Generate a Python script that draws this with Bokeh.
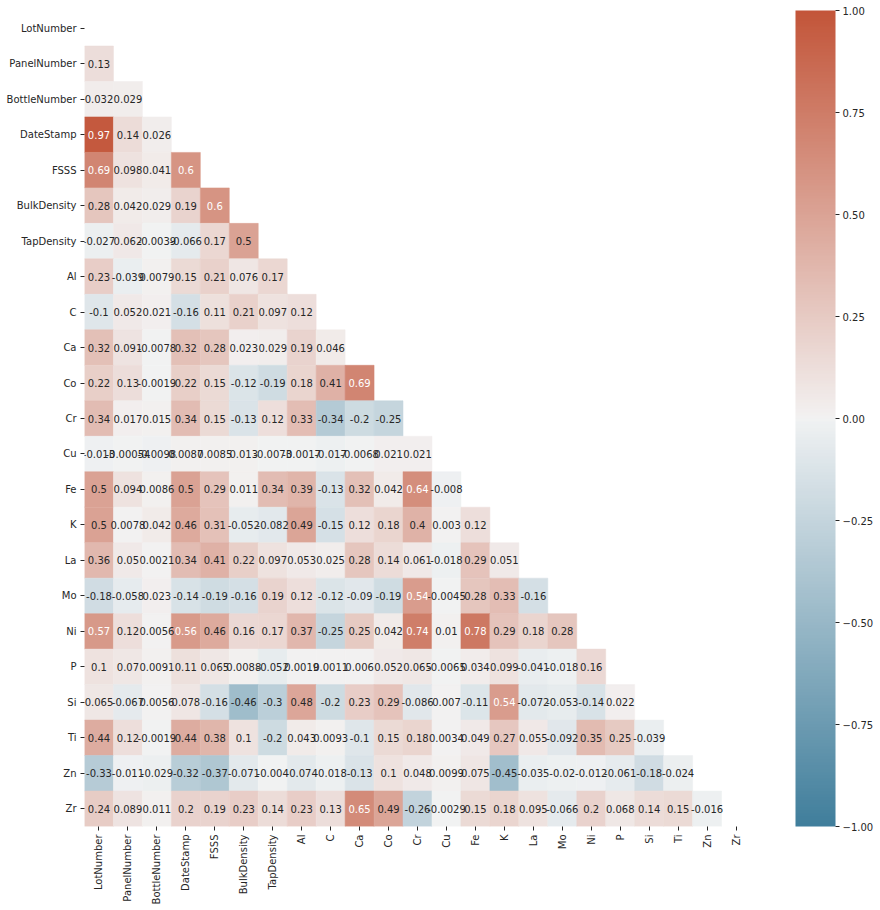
import math
from bokeh.plotting import figure
from bokeh.models import (ColumnDataSource, LinearColorMapper, ColorBar, FixedTicker,
                          CustomJSTickFormatter, FactorRange)
from bokeh.core.properties import value
from bokeh.embed import file_html
from bokeh.resources import INLINE

labels = ["LotNumber", "PanelNumber", "BottleNumber", "DateStamp", "FSSS", "BulkDensity",
          "TapDensity", "Al", "C", "Ca", "Co", "Cr", "Cu", "Fe", "K", "La", "Mo", "Ni",
          "P", "Si", "Ti", "Zn", "Zr"]

# lower-triangle correlation values, one list per row (row i holds columns 0..i-1)
r_LotNumber = []
r_PanelNumber = [0.13]
r_BottleNumber = [0.032, 0.029]
r_DateStamp = [0.97, 0.14, 0.026]
r_FSSS = [0.69, 0.098, 0.041, 0.6]
r_BulkDensity = [0.28, 0.042, 0.029, 0.19, 0.6]
r_TapDensity = [-0.027, 0.062, -0.0039, -0.066, 0.17, 0.5]
r_Al = [0.23, -0.039, 0.0079, 0.15, 0.21, 0.076, 0.17]
r_C = [-0.1, 0.052, 0.021, -0.16, 0.11, 0.21, 0.097, 0.12]
r_Ca = [0.32, 0.091, -0.0078, 0.32, 0.28, 0.023, 0.029, 0.19, 0.046]
r_Co = [0.22, 0.13, -0.0019, 0.22, 0.15, -0.12, -0.19, 0.18, 0.41, 0.69]
r_Cr = [0.34, 0.017, 0.015, 0.34, 0.15, -0.13, 0.12, 0.33, -0.34, -0.2, -0.25]
r_Cu = [-0.013, -0.00054, -0.0098, 0.0087, 0.0085, 0.013, -0.0073, -0.0017, -0.017,
        -0.0068, 0.021, 0.021]
r_Fe = [0.5, 0.094, 0.0086, 0.5, 0.29, 0.011, 0.34, 0.39, -0.13, 0.32, 0.042, 0.64, -0.008]
r_K = [0.5, 0.0078, 0.042, 0.46, 0.31, -0.052, -0.082, 0.49, -0.15, 0.12, 0.18, 0.4,
       0.003, 0.12]
r_La = [0.36, 0.05, 0.0021, 0.34, 0.41, 0.22, 0.097, 0.053, 0.025, 0.28, 0.14, 0.061,
        -0.018, 0.29, 0.051]
r_Mo = [-0.18, -0.058, 0.023, -0.14, -0.19, -0.16, 0.19, 0.12, -0.12, -0.09, -0.19, 0.54,
        -0.0045, 0.28, 0.33, -0.16]
r_Ni = [0.57, 0.12, 0.0056, 0.56, 0.46, 0.16, 0.17, 0.37, -0.25, 0.25, 0.042, 0.74, 0.01,
        0.78, 0.29, 0.18, 0.28]
r_P = [0.1, 0.07, 0.0091, 0.11, 0.065, 0.0088, -0.052, 0.0019, 0.0011, 0.006, 0.052,
       0.065, -0.0065, 0.034, 0.099, -0.041, -0.018, 0.16]
r_Si = [0.065, -0.067, 0.0056, 0.078, -0.16, -0.46, -0.3, 0.48, -0.2, 0.23, 0.29, -0.086,
        0.007, -0.11, 0.54, -0.072, -0.053, -0.14, 0.022]
r_Ti = [0.44, 0.12, -0.0019, 0.44, 0.38, 0.1, -0.2, 0.043, 0.0093, -0.1, 0.15, 0.18,
        0.0034, 0.049, 0.27, 0.055, -0.092, 0.35, 0.25, -0.039]
r_Zn = [-0.33, -0.011, -0.029, -0.32, -0.37, -0.071, -0.004, -0.074, -0.018, -0.13, 0.1,
        0.048, 0.0099, 0.075, -0.45, -0.035, -0.02, -0.012, -0.061, -0.18, -0.024]
r_Zr = [0.24, 0.089, 0.011, 0.2, 0.19, 0.23, 0.14, 0.23, 0.13, 0.65, 0.49, -0.26, -0.0029,
        0.15, 0.18, 0.095, -0.066, 0.2, 0.068, 0.14, 0.15, -0.016]

rows = [r_LotNumber, r_PanelNumber, r_BottleNumber, r_DateStamp, r_FSSS, r_BulkDensity,
        r_TapDensity, r_Al, r_C, r_Ca, r_Co, r_Cr, r_Cu, r_Fe, r_K, r_La, r_Mo, r_Ni,
        r_P, r_Si, r_Ti, r_Zn, r_Zr]

cbar_ticks = [-1.0, -0.75, -0.5, -0.25, 0.0, 0.25, 0.5, 0.75, 1.0]

# ---- seaborn diverging_palette(230, 20) reproduction (HUSL colour space) ----
M = [[3.2406, -1.5372, -0.4986], [-0.9689, 1.8758, 0.0415], [0.0557, -0.2040, 1.0570]]
REF_U, REF_V = 0.19784, 0.46834


def max_chroma(L, H):
    hrad = math.radians(H)
    sinH, cosH = math.sin(hrad), math.cos(hrad)
    sub1 = (L + 16) ** 3 / 1560896.0
    sub2 = sub1 if sub1 > 0.008856 else L / 903.3
    result = float("inf")
    for m1, m2, m3 in M:
        top = (0.99915 * m1 + 1.05122 * m2 + 1.14460 * m3) * sub2
        rbottom = 0.86330 * m3 - 0.17266 * m2
        lbottom = 0.12949 * m3 - 0.38848 * m1
        bottom = (rbottom * sinH + lbottom * cosH) * sub2
        for t in (0.0, 1.0):
            C = L * (top - 1.05122 * t) / (bottom + 0.17266 * sinH * t)
            if 0.0 < C < result:
                result = C
    return result


def husl_to_rgb(H, S, L):
    C = max_chroma(L, H) / 100.0 * S
    U = C * math.cos(math.radians(H))
    V = C * math.sin(math.radians(H))
    varY = ((L + 16) / 116.0) ** 3 if L > 8 else L / 903.3
    varU = U / (13.0 * L) + REF_U
    varV = V / (13.0 * L) + REF_V
    Y = varY
    X = -(9.0 * Y * varU) / ((varU - 4.0) * varV - varU * varV)
    Z = (9.0 * Y - 15.0 * varV * Y - varV * X) / (3.0 * varV)
    out = []
    for row in M:
        c = row[0] * X + row[1] * Y + row[2] * Z
        c = 12.92 * c if c <= 0.0031308 else 1.055 * c ** (1 / 2.4) - 0.055
        out.append(min(max(c, 0.0), 1.0))
    return out


def lerp(a, b, t):
    return [a[k] + (b[k] - a[k]) * t for k in range(3)]


neg_c, neg_g = husl_to_rgb(230, 75, 50), husl_to_rgb(230, 75 * 0.15, 95)
pos_c, pos_g = husl_to_rgb(20, 75, 50), husl_to_rgb(20, 75 * 0.15, 95)
base = ([lerp(neg_c, neg_g, i / 127.0) for i in range(128)] + [[0.95, 0.95, 0.95]] +
        [lerp(pos_g, pos_c, i / 127.0) for i in range(128)])


def cmap(t):
    x = min(max(t, 0.0), 1.0) * (len(base) - 1)
    i = min(int(x), len(base) - 2)
    return lerp(base[i], base[i + 1], x - i)


lut = [cmap(i / 255.0) for i in range(256)]


def to_hex(c):
    return "#%02x%02x%02x" % tuple(int(round(v * 255)) for v in c)


def color_for(v):
    idx = min(int((v + 1) / 2.0 * 256), 255)
    return lut[idx]


def lum(c):
    lin = [x / 12.92 if x <= 0.03928 else ((x + 0.055) / 1.055) ** 2.4 for x in c]
    return 0.2126 * lin[0] + 0.7152 * lin[1] + 0.0722 * lin[2]


xs, ys, vals, fills, txts, tcols = [], [], [], [], [], []
for i, row in enumerate(rows):
    for j, v in enumerate(row):
        c = color_for(v)
        xs.append(labels[j])
        ys.append(labels[i])
        vals.append(v)
        fills.append(to_hex(c))
        txts.append(f"{v:.2g}")
        tcols.append("#262626" if lum(c) > 0.408 else "#ffffff")

src = ColumnDataSource(dict(x=xs, y=ys, v=vals, fill=fills, txt=txts, tc=tcols))

p = figure(x_range=FactorRange(*labels), y_range=FactorRange(*labels[::-1]),
           frame_width=666, frame_height=816, output_backend="svg", toolbar_location=None,
           min_border_left=84, min_border_top=10, min_border_right=0, min_border_bottom=0)
p.rect(x="x", y="y", width=1, height=1, source=src, fill_color="fill", line_color="fill",
       line_width=0.5)
p.text(x="x", y="y", text="txt", source=src, text_color="tc", text_align="center",
       text_baseline="middle", text_font=value("DejaVu Sans"), text_font_size="10px")

p.grid.visible = False
p.outline_line_color = None
p.background_fill_color = "white"
p.border_fill_color = "white"
for ax in (p.xaxis, p.yaxis):
    ax.axis_line_color = None
    ax.major_tick_line_color = "#262626"
    ax.major_tick_out = 4
    ax.major_tick_in = 0
    ax.minor_tick_line_color = None
    ax.major_label_text_font = "DejaVu Sans"
    ax.major_label_text_font_size = "10px"
    ax.major_label_text_color = "#262626"
    ax.major_label_standoff = 4
p.xaxis.major_label_orientation = math.pi / 2

mapper = LinearColorMapper(palette=[to_hex(c) for c in lut], low=-1, high=1)
cb = ColorBar(color_mapper=mapper, width=40, height=816, padding=0, margin=0,
              location=(45, 0),
              ticker=FixedTicker(ticks=cbar_ticks),
              formatter=CustomJSTickFormatter(code="return tick.toFixed(2).replace('-', '\u2212');"),
              major_tick_out=4, major_tick_in=0, major_tick_line_color="#262626",
              minor_tick_line_color=None,
              major_label_text_font="DejaVu Sans", major_label_text_font_size="10px",
              major_label_text_color="#262626", label_standoff=3,
              bar_line_color=None, border_line_color=None, background_fill_color=None)
p.add_layout(cb, "right")

open("out.html", "w").write(file_html(p, INLINE))
